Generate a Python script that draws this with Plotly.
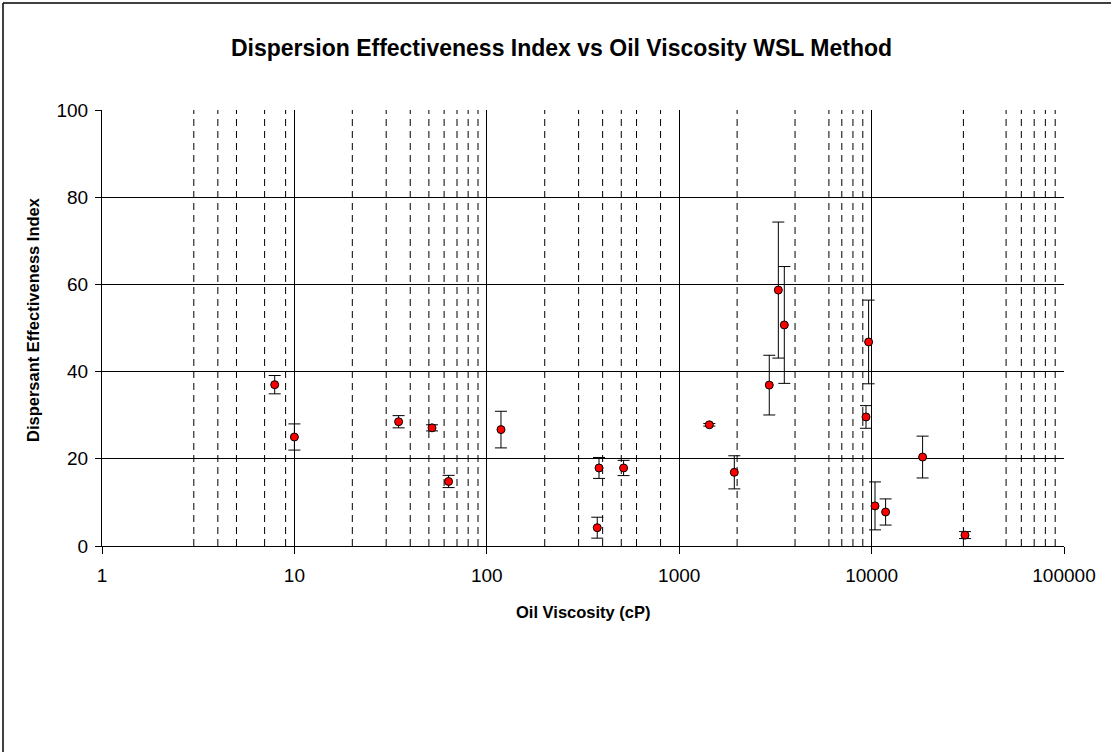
import plotly.graph_objects as go

# ---- data ----
viscosity_cp = [7.9, 10, 34.8, 51.9, 63.3, 118.5, 383, 375, 514, 1434,
                1934, 2939, 3275, 3518, 9647, 9353, 18410, 10416, 11825, 30580]
effectiveness_index = [37.0, 25.0, 28.5, 27.1, 14.8, 26.7, 17.9, 4.2, 17.9, 27.8,
                       16.9, 36.9, 58.7, 50.7, 46.8, 29.6, 20.4, 9.2, 7.8, 2.5]
error_half = [2.1, 3.0, 1.4, 0.7, 1.4, 4.2, 2.4, 2.4, 1.75, 0.3,
              3.8, 6.85, 15.6, 13.4, 9.6, 2.6, 4.8, 5.5, 3.0, 0.8]

x_tick_values = [1, 10, 100, 1000, 10000, 100000]
x_tick_labels = ["1", "10", "100", "1000", "10000", "100000"]
y_tick_values = [0, 20, 40, 60, 80, 100]
minor_grid_values = [3, 4, 5, 7, 9,
                     20, 30, 40, 50, 60, 70, 80, 90,
                     200, 300, 400, 500, 600, 800,
                     2000, 4000, 6000, 7000, 8000, 9000,
                     30000, 50000, 60000, 70000, 80000, 90000]

W, H = 1111, 752
ML, MR, MT, MB = 102, 47, 110, 206
PW, PH = W - ML - MR, H - MT - MB

FONT = "Liberation Sans, Arial, sans-serif"

fig = go.Figure()
fig.add_trace(go.Scatter(
    x=viscosity_cp, y=effectiveness_index, mode="markers",
    marker=dict(color="#FF0000", size=8, line=dict(color="black", width=1)),
    error_y=dict(type="data", array=error_half, color="black", thickness=1, width=6),
    showlegend=False, cliponaxis=False,
))

shapes = []
for v in minor_grid_values:
    shapes.append(dict(type="line", xref="x", yref="paper", x0=v, x1=v, y0=0, y1=1,
                       line=dict(color="black", width=1, dash="7px,5px"), layer="below"))
# outer chart border: only the top and left edges show in the picture
bx0 = (3 - ML) / PW
by1 = 1 + (MT - 3) / PH
shapes.append(dict(type="line", xref="paper", yref="paper",
                   x0=bx0, x1=(W - ML) / PW, y0=by1, y1=by1,
                   line=dict(color="black", width=1.5)))
shapes.append(dict(type="line", xref="paper", yref="paper",
                   x0=bx0, x1=bx0, y0=by1, y1=-MB / PH,
                   line=dict(color="black", width=1.5)))

fig.update_layout(
    width=W, height=H,
    margin=dict(l=ML, r=MR, t=MT, b=MB, autoexpand=False),
    paper_bgcolor="white", plot_bgcolor="white",
    font=dict(family=FONT, color="black"),
    title=dict(text="<b>Dispersion Effectiveness Index vs Oil Viscosity WSL Method</b>",
               x=561.5 / W, xanchor="center", y=1 - 48 / H, yanchor="middle",
               font=dict(size=23, family=FONT, color="black")),
    shapes=shapes,
    annotations=[
        dict(text="<b>Oil Viscosity (cP)</b>", xref="paper", yref="paper", x=0.5, y=0,
             yshift=-66, xanchor="center", yanchor="middle", showarrow=False,
             font=dict(size=16.5, family=FONT, color="black")),
        dict(text="<b>Dispersant Effectiveness Index</b>", xref="paper", yref="paper",
             x=0, xshift=-69, y=(546 - 320) / PH, textangle=-90,
             xanchor="center", yanchor="middle", showarrow=False,
             font=dict(size=16.5, family=FONT, color="black")),
    ],
)

fig.update_xaxes(
    type="log", range=[0, 5],
    tickvals=x_tick_values, ticktext=x_tick_labels,
    showgrid=True, gridcolor="black", gridwidth=1,
    showline=True, linecolor="black", linewidth=1,
    ticks="outside", ticklen=7, tickcolor="black",
    ticklabelstandoff=5,
    tickfont=dict(size=19, family=FONT, color="black"),
    zeroline=False,
)
fig.update_yaxes(
    range=[0, 100], tickvals=y_tick_values,
    showgrid=True, gridcolor="black", gridwidth=1,
    showline=True, linecolor="black", linewidth=1,
    ticks="outside", ticklen=6, tickcolor="black",
    ticklabelstandoff=3,
    tickfont=dict(size=19, family=FONT, color="black"),
    zeroline=False,
)

fig.write_html("out.html")
